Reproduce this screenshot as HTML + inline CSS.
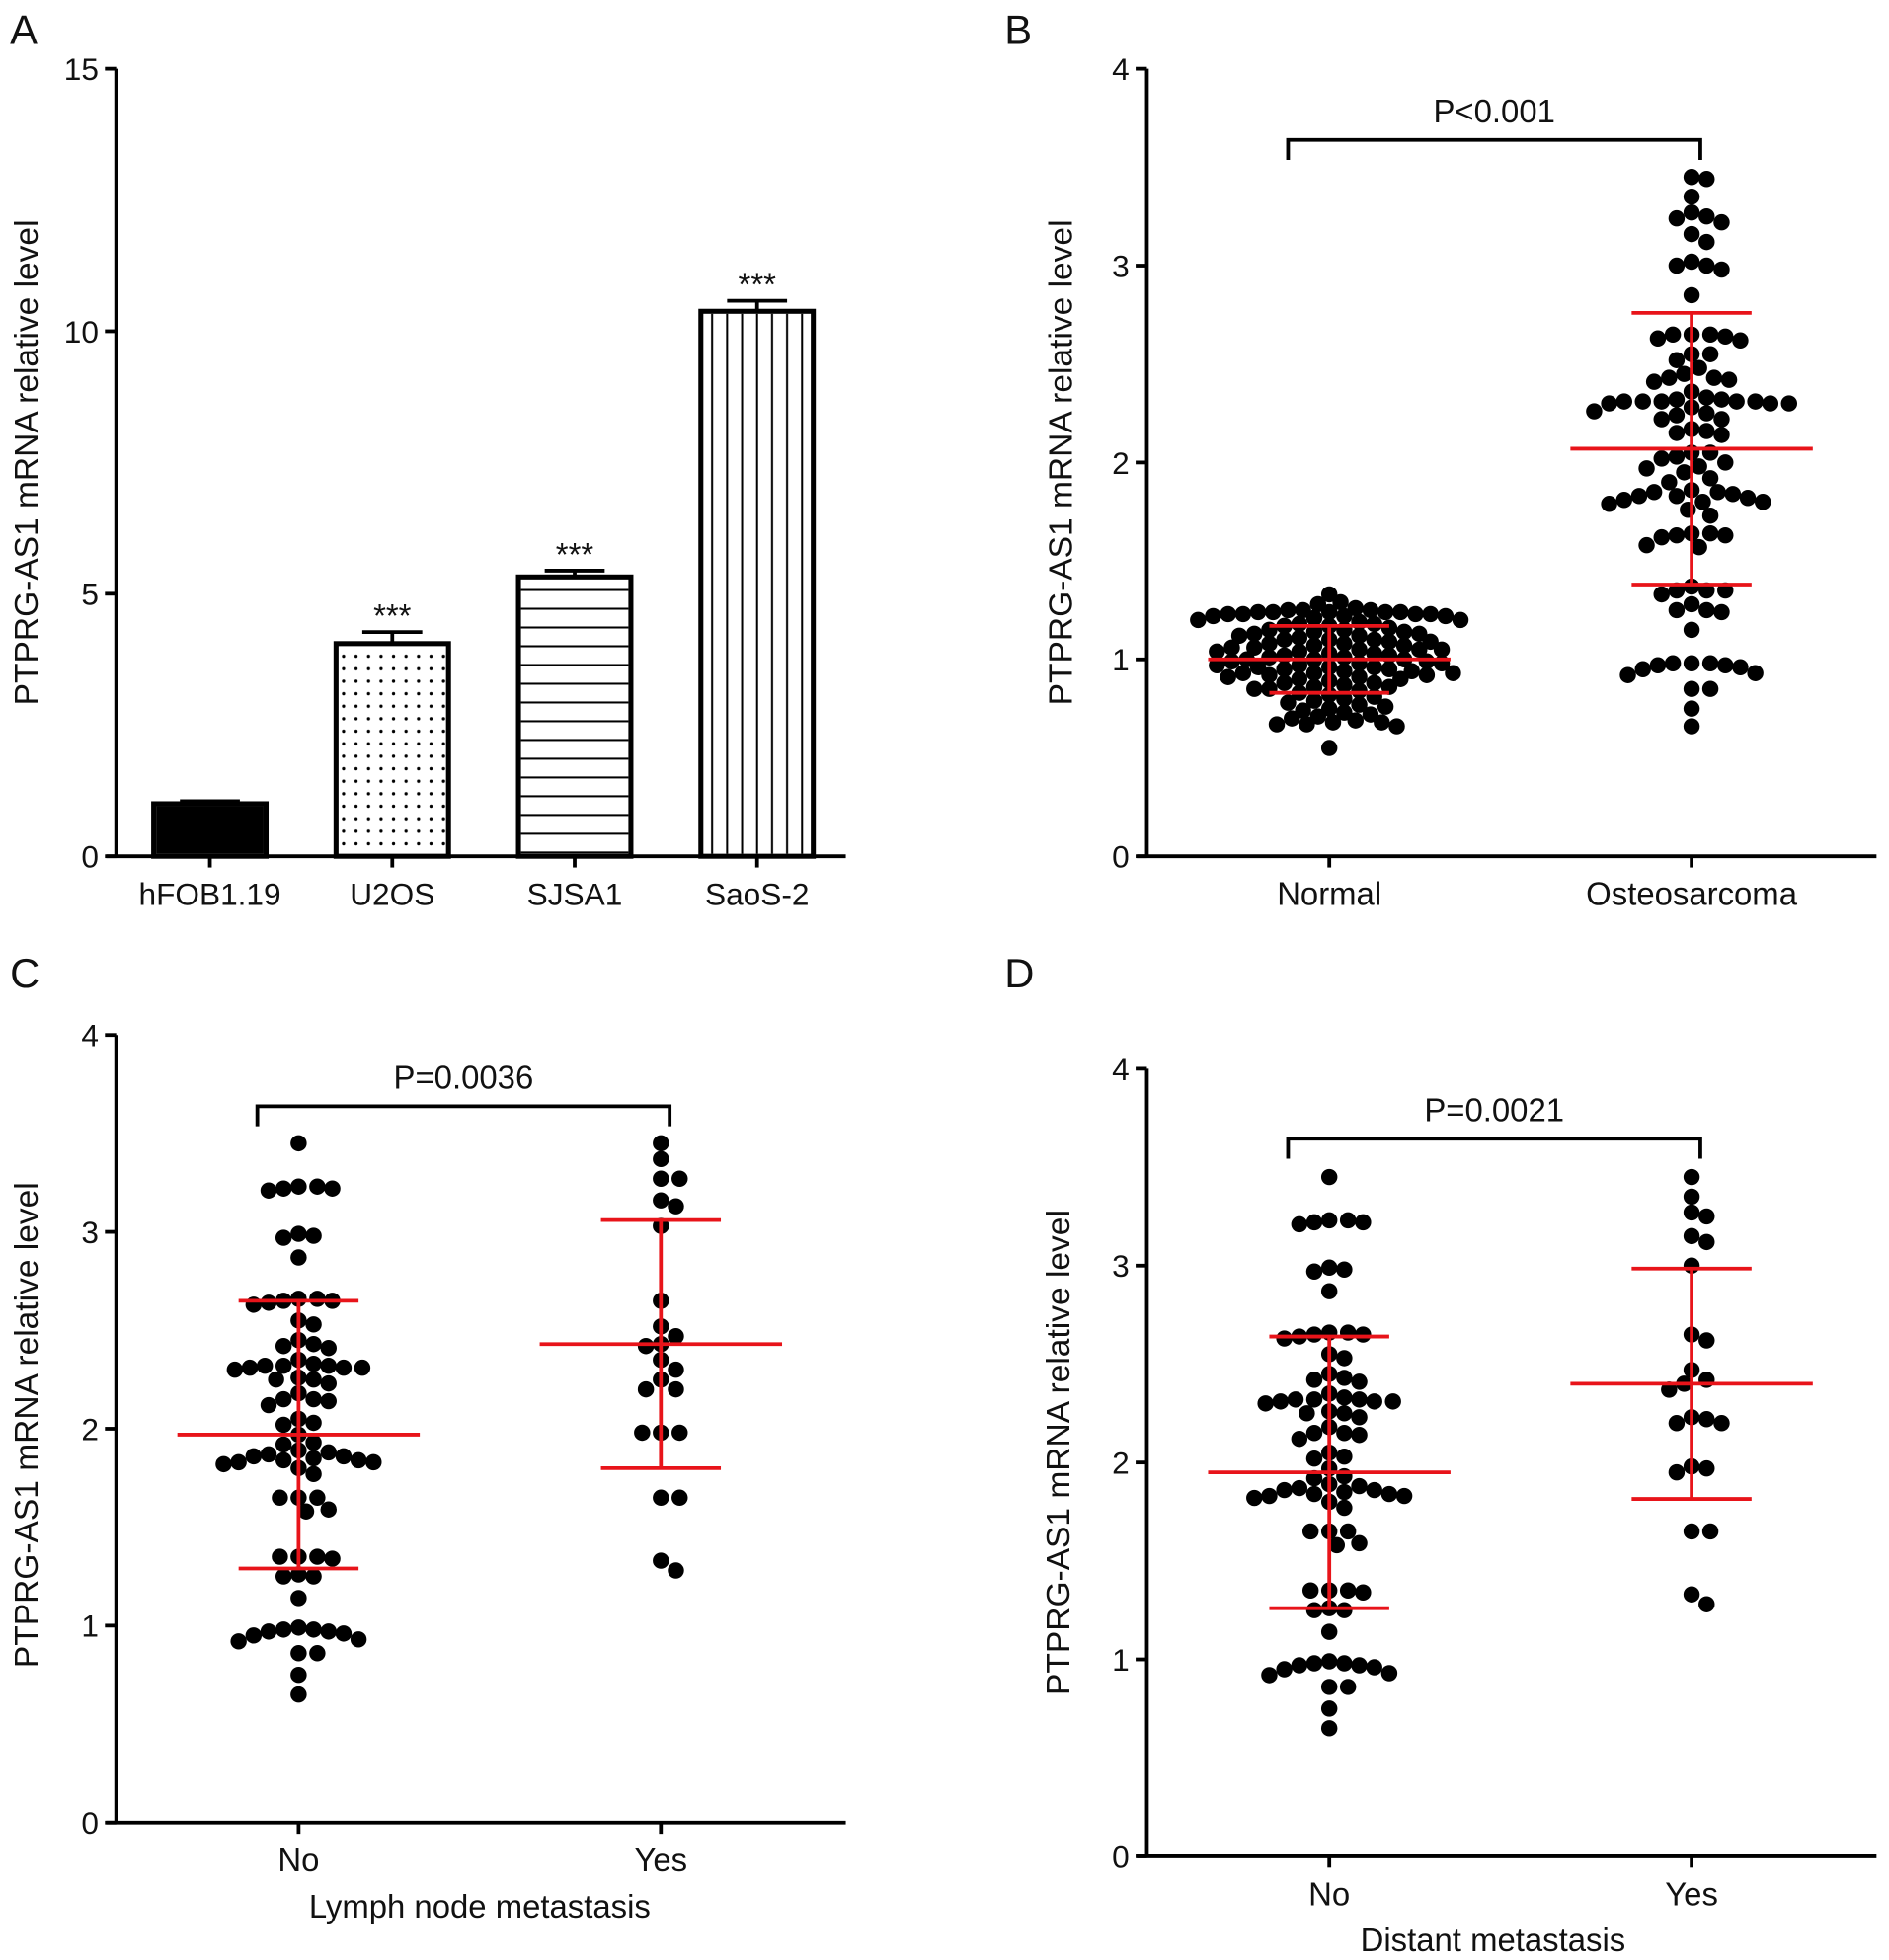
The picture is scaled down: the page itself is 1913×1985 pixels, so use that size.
<!DOCTYPE html>
<html><head><meta charset="utf-8">
<style>
html,body{margin:0;padding:0;background:#fff;}
svg{display:block;font-family:"Liberation Sans",Arial,sans-serif;}
</style></head>
<body>
<svg id="fig" width="1913" height="1985" viewBox="0 0 1512 1568" preserveAspectRatio="none" xmlns="http://www.w3.org/2000/svg">
<defs>
<pattern id="dots" width="10" height="10" patternUnits="userSpaceOnUse"><circle cx="5" cy="5" r="1.3" fill="#000"/></pattern>
<pattern id="hlines" width="10" height="15" patternUnits="userSpaceOnUse"><line x1="0" y1="7" x2="10" y2="7" stroke="#000" stroke-width="1.6"/></pattern>
<pattern id="vlines" width="12" height="10" patternUnits="userSpaceOnUse"><line x1="6" y1="0" x2="6" y2="10" stroke="#000" stroke-width="1.6"/></pattern>
</defs>
</svg>
<script>
// ---- Panel A data ----
const barCategories = ["hFOB1.19","U2OS","SJSA1","SaoS-2"];
const barValues = [1.0, 4.05, 5.32, 10.38];
const barErrors = [0.05, 0.22, 0.12, 0.2];
const barStars = ["","***","***","***"];
const barYTicks = [0,5,10,15];
// ---- Panel B data ----
const bCategories = ["Normal","Osteosarcoma"];
const bNormal = [1.33,1.29,1.28,1.26,1.25,1.25,1.25,1.24,1.24,1.24,1.24,1.24,1.23,1.23,1.23,1.23,1.22,1.22,1.22,1.21,1.2,1.2,1.19,1.18,1.18,1.17,1.17,1.16,1.15,1.15,1.14,1.14,1.13,1.13,1.12,1.12,1.11,1.1,1.1,1.1,1.09,1.09,1.08,1.08,1.07,1.07,1.06,1.06,1.05,1.05,1.05,1.04,1.04,1.03,1.03,1.02,1.02,1.01,1.01,1.0,1.0,1.0,0.99,0.99,0.98,0.98,0.97,0.97,0.96,0.96,0.96,0.95,0.95,0.94,0.94,0.93,0.93,0.93,0.92,0.92,0.91,0.91,0.9,0.9,0.89,0.88,0.88,0.87,0.86,0.86,0.85,0.85,0.84,0.83,0.82,0.81,0.8,0.79,0.78,0.77,0.76,0.75,0.74,0.73,0.72,0.71,0.7,0.69,0.68,0.68,0.67,0.67,0.66,0.55];
const bOsteo = [3.45,3.44,3.35,3.27,3.25,3.24,3.22,3.16,3.12,3.02,3.0,3.0,2.98,2.85,2.65,2.65,2.65,2.64,2.63,2.62,2.55,2.55,2.52,2.48,2.45,2.43,2.43,2.42,2.41,2.36,2.32,2.31,2.31,2.31,2.32,2.31,2.33,2.30,2.30,2.30,2.31,2.28,2.25,2.26,2.22,2.24,2.22,2.16,2.14,2.17,2.15,2.05,2.05,2.03,2.02,2.0,1.98,1.97,1.95,1.90,1.92,1.86,1.85,1.85,1.84,1.83,1.83,1.82,1.81,1.80,1.80,1.79,1.76,1.73,1.64,1.64,1.63,1.63,1.62,1.58,1.57,1.37,1.35,1.35,1.35,1.33,1.28,1.25,1.25,1.24,1.15,0.98,0.98,0.97,0.97,0.98,0.96,0.95,0.93,0.92,0.85,0.85,0.75,0.66];
const bMeans = [1.0, 2.07];
const bSD = [0.17, 0.69];
// ---- Panel C data ----
const cCategories = ["No","Yes"];
const cNo = [3.45,3.23,3.23,3.22,3.22,3.21,2.99,2.98,2.97,2.87,2.66,2.66,2.65,2.65,2.64,2.63,2.55,2.53,2.45,2.43,2.42,2.41,2.35,2.33,2.32,2.32,2.32,2.31,2.31,2.31,2.3,2.26,2.25,2.25,2.23,2.18,2.15,2.15,2.14,2.12,2.05,2.03,2.02,1.97,1.93,1.92,1.89,1.88,1.87,1.86,1.86,1.85,1.84,1.84,1.83,1.83,1.82,1.8,1.77,1.65,1.65,1.65,1.59,1.58,1.35,1.35,1.35,1.34,1.26,1.25,1.25,1.14,0.99,0.98,0.98,0.97,0.97,0.96,0.95,0.93,0.92,0.86,0.86,0.75,0.65];
const cYes = [3.45,3.37,3.27,3.27,3.16,3.13,3.03,2.65,2.52,2.47,2.43,2.42,2.35,2.3,2.25,2.2,2.2,1.98,1.98,1.98,1.65,1.65,1.33,1.28];
const cMeans = [1.97, 2.43];
const cSD = [0.68, 0.63];
// ---- Panel D data ----
const dCategories = ["No","Yes"];
const dNo = [3.45,3.23,3.23,3.22,3.22,3.21,2.99,2.98,2.97,2.87,2.66,2.66,2.65,2.65,2.64,2.63,2.55,2.53,2.45,2.43,2.42,2.41,2.35,2.33,2.32,2.32,2.32,2.31,2.31,2.31,2.3,2.26,2.25,2.25,2.23,2.18,2.15,2.15,2.14,2.12,2.05,2.03,2.02,1.97,1.93,1.92,1.89,1.88,1.87,1.86,1.86,1.85,1.84,1.84,1.83,1.83,1.82,1.8,1.77,1.65,1.65,1.65,1.59,1.58,1.35,1.35,1.35,1.34,1.26,1.25,1.25,1.14,0.99,0.98,0.98,0.97,0.97,0.96,0.95,0.93,0.92,0.86,0.86,0.75,0.65];
const dYes = [3.45,3.35,3.27,3.25,3.15,3.12,3.0,2.65,2.62,2.47,2.42,2.4,2.37,2.23,2.22,2.2,2.2,1.98,1.97,1.95,1.65,1.65,1.33,1.28];
const dMeans = [1.95, 2.40];
const dSD = [0.69, 0.585];
const scatterYTicks = [0,1,2,3,4];

const NS="http://www.w3.org/2000/svg";
const svg=document.getElementById('fig');
function mk(tag,attrs,parent){const e=document.createElementNS(NS,tag);for(const k in attrs)e.setAttribute(k,attrs[k]);(parent||svg).appendChild(e);return e;}
function txt(s,x,y,size,anchor,parent){const t=mk('text',{x:x,y:y,'font-size':size,'text-anchor':anchor||'middle',fill:'#111'},parent);t.textContent=s;return t;}

function axes(g,ax){
  const yS=v=>ax.y0-(v-ax.min)/(ax.max-ax.min)*(ax.y0-ax.y1);
  const yl=mk('line',{x1:ax.x0,y1:ax.y1,x2:ax.x0,y2:ax.y0,stroke:'#000','stroke-width':3},g);
  
  
  const xl=mk('line',{x1:ax.x0-8,y1:ax.y0,x2:ax.x2,y2:ax.y0,stroke:'#000','stroke-width':3},g);
  
  
  ax.ticks.forEach(v=>{
    mk('line',{x1:ax.x0-9,y1:yS(v),x2:ax.x0,y2:yS(v),stroke:'#000','stroke-width':3},g);
    const t=txt(String(v),ax.x0-14,yS(v)+9,25,'end',g);
    
    
  });
  const yt=txt('PTPRG-AS1 mRNA relative level',0,0,26.5,'middle',g);
  yt.setAttribute('transform',`translate(${ax.titleX},${ax.titleY}) rotate(-90)`);
  
  
  return yS;
}
function panelLetter(s,x,y){const t=txt(s,x,y,33,'start');}

// ---- Panel A ----
(function(){
  const g=mk('g',{});
  
  
  const ax={x0:93,x2:677,y0:685,y1:55,min:0,max:15,ticks:barYTicks,titleX:30,titleY:370};
  const yS=axes(g,ax);
  const fills=['#000','url(#dots)','url(#hlines)','url(#vlines)'];
  const plotW=ax.x2-ax.x0, slot=plotW/barCategories.length, bw=94;
  barCategories.forEach((c,i)=>{
    const cx=ax.x0+slot*(i+0.5)+2;
    const top=yS(barValues[i]);
    const eTop=yS(barValues[i]+barErrors[i]);
    const el=mk('line',{x1:cx,y1:top,x2:cx,y2:eTop,stroke:'#000','stroke-width':3},g);
    
    
    mk('line',{x1:cx-24,y1:eTop,x2:cx+24,y2:eTop,stroke:'#000','stroke-width':3},g);
    const r=mk('rect',{x:cx-bw/2+2,y:top,width:bw-4,height:ax.y0-top,fill:'#fff',stroke:'#000','stroke-width':4},g);
    
    
    mk('rect',{x:cx-bw/2+4,y:top+2,width:bw-8,height:ax.y0-top-4,fill:fills[i]},g);
    mk('line',{x1:cx,y1:ax.y0,x2:cx,y2:ax.y0+9,stroke:'#000','stroke-width':3},g);
    const lt=txt(c,cx,ax.y0+39,25,'middle',g);
    
    
    if(barStars[i]){const s=txt(barStars[i],cx,eTop-4,26,'middle',g);}
  });
})();

// ---- scatter panels ----
function beeswarm(vals,cx,yS,r,tight){
  const sorted=vals.slice().sort((a,b)=>b-a);const placed=[];
  sorted.forEach(v=>{
    const y=yS(v);let k=0,x;
    while(true){
      const off=(k%2?1:-1)*Math.ceil(k/2)*3; x=cx+off;
      if(!placed.some(p=>(p.x-x)**2+(p.y-y)**2<(2*r*tight)**2))break; k++;
      if(k>200)break;
    }
    placed.push({x:x,y:y,v:v});
  });
  return placed;
}
function scatterPanel(o){
  const g=mk('g',{});
  
  
  const ax={x0:o.x0,x2:o.x0+584,y0:o.y0,y1:o.y0-630,min:0,max:4,ticks:scatterYTicks,titleX:o.titleX,titleY:o.titleY};
  const yS=axes(g,ax);
  const cxs=[o.x0+146,o.x0+436];
  o.cats.forEach((c,i)=>{
    const cx=cxs[i];
    mk('line',{x1:cx,y1:ax.y0,x2:cx,y2:ax.y0+9,stroke:'#000','stroke-width':3},g);
    const lt=txt(c,cx,ax.y0+39,26,'middle',g);
    
    
    beeswarm(o.groups[i],cx,yS,6.5,o.tight[i]).forEach(p=>{
      const d=mk('circle',{cx:p.x,cy:p.y,r:6.5,fill:'#000'},g);
      
      
    });
  });
  o.cats.forEach((c,i)=>{
    const cx=cxs[i],m=o.means[i],s=o.sd[i];
    const red={stroke:'#e8141a','stroke-width':3};
    const v=mk('line',Object.assign({x1:cx,y1:yS(m+s),x2:cx,y2:yS(m-s)},red),g);
    
    
    const ml=mk('line',Object.assign({x1:cx-97,y1:yS(m),x2:cx+97,y2:yS(m)},red),g);
    
    
    mk('line',Object.assign({x1:cx-48,y1:yS(m+s),x2:cx+48,y2:yS(m+s)},red),g);
    mk('line',Object.assign({x1:cx-48,y1:yS(m-s),x2:cx+48,y2:yS(m-s)},red),g);
  });
  const by=o.bracketY, bl=cxs[0]-33, br=cxs[1]+7;
  const b=mk('polyline',{points:`${bl},${by+16} ${bl},${by} ${br},${by} ${br},${by+16}`,fill:'none',stroke:'#000','stroke-width':3},g);
  
  
  const pt=txt(o.p,(bl+br)/2,by-14,26,'middle',g);
  
  
  if(o.xTitle){const xt=txt(o.xTitle,o.x0+o.xTitleDx,ax.y0+76,26,'middle',g);}
}
scatterPanel({name:'panel-b-scatter',x0:918,y0:685,titleX:858,titleY:370,cats:bCategories,groups:[bNormal,bOsteo],means:bMeans,sd:bSD,bracketY:112,p:'P<0.001',tight:[0.8,0.93]});
scatterPanel({name:'panel-c-scatter',x0:93,y0:1458,titleX:30,titleY:1140,cats:cCategories,groups:[cNo,cYes],means:cMeans,sd:cSD,bracketY:885,p:'P=0.0036',xTitle:'Lymph node metastasis',xTitleDx:291,tight:[0.93,0.93]});
scatterPanel({name:'panel-d-scatter',x0:918,y0:1485,titleX:856,titleY:1162,cats:dCategories,groups:[dNo,dYes],means:dMeans,sd:dSD,bracketY:911,p:'P=0.0021',xTitle:'Distant metastasis',xTitleDx:277,tight:[0.93,0.93]});
panelLetter('A',8,35);panelLetter('B',804,35);panelLetter('C',8,790);panelLetter('D',804,790);
</script>
</body></html>
